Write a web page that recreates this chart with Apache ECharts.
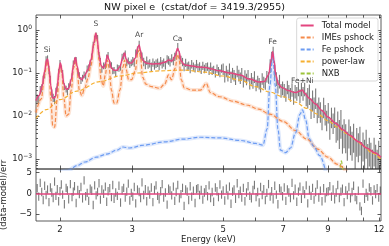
<!DOCTYPE html>
<html><head><meta charset="utf-8">
<script src="https://cdn.jsdelivr.net/npm/echarts@6/dist/echarts.min.js"></script>
<style>html,body{margin:0;padding:0;background:#fff}#c{width:389px;height:246px}</style>
</head><body><div id="c"></div>
<script>
// ---------- data ----------
const totalE = [1.748,1.78,1.81,1.835,1.855,1.865,1.88,1.90,1.92,1.945,1.97,1.99,2.005,2.02,2.045,2.07,2.10,2.13,2.16,2.18,2.20,2.23,2.26,2.30,2.34,2.38,2.42,2.445,2.465,2.49,2.52,2.55,2.58,2.61,2.635,2.67,2.71,2.75,2.80,2.85,2.875,2.90,2.94,2.99,3.05,3.10,3.12,3.145,3.18,3.24,3.35,3.50,3.62,3.68,3.75,3.82,3.87,3.90,3.95,4.02,4.15,4.35,4.55,4.65,4.9,5.2,5.5,5.8,6.1,6.3,6.45,6.55,6.6,6.65,6.72,6.82,6.95,7.2,7.5,7.7,7.8,7.9,8.1,8.4,8.7,9.0,9.4,9.8,10.2,10.7,11.2,11.7,12.13];
const totalV = [0.023,0.03,0.05,0.11,0.2,0.21,0.13,0.05,0.026,0.027,0.05,0.12,0.17,0.12,0.055,0.042,0.044,0.07,0.16,0.23,0.15,0.08,0.07,0.09,0.12,0.2,0.5,0.84,0.6,0.27,0.15,0.13,0.16,0.26,0.2,0.13,0.115,0.115,0.14,0.24,0.29,0.21,0.17,0.17,0.22,0.4,0.45,0.32,0.2,0.17,0.162,0.165,0.18,0.2,0.19,0.25,0.375,0.32,0.19,0.155,0.148,0.138,0.135,0.125,0.112,0.1,0.09,0.072,0.062,0.063,0.09,0.2,0.31,0.2,0.09,0.055,0.046,0.039,0.035,0.038,0.04,0.034,0.026,0.019,0.0135,0.0095,0.0068,0.0048,0.0035,0.0025,0.0018,0.0014,0.0011];

const imesE = [1.748,1.80,1.835,1.86,1.88,1.90,1.92,1.94,1.97,1.99,2.005,2.02,2.045,2.07,2.10,2.13,2.16,2.18,2.20,2.23,2.26,2.30,2.34,2.38,2.42,2.445,2.465,2.49,2.52,2.55,2.58,2.61,2.635,2.67,2.71,2.75,2.80,2.85,2.875,2.90,2.94,2.99,3.05,3.10,3.12,3.145,3.18,3.24,3.35,3.50,3.60,3.68,3.74,3.82,3.87,3.90,3.95,4.02,4.2,4.4,4.55,4.65,4.9,5.3,5.7,6.1,6.5,7.0,7.5,8.0,8.5,9.0,9.5,10.0];
const imesV = [0.012,0.025,0.09,0.19,0.11,0.025,0.006,0.0055,0.025,0.1,0.15,0.1,0.025,0.01,0.011,0.04,0.13,0.2,0.12,0.04,0.03,0.045,0.075,0.15,0.45,0.78,0.55,0.2,0.07,0.05,0.09,0.2,0.13,0.04,0.02,0.02,0.04,0.14,0.2,0.12,0.07,0.07,0.11,0.3,0.35,0.22,0.08,0.055,0.048,0.044,0.055,0.09,0.07,0.13,0.27,0.22,0.07,0.045,0.04,0.04,0.057,0.035,0.028,0.022,0.018,0.0145,0.011,0.0075,0.0046,0.0029,0.0017,0.0011,0.00075,0.0005];

const feE = [1.9,2.1,2.2,2.3,2.45,2.6,2.75,2.85,2.95,3.2,3.6,4.0,4.4,4.9,5.5,6.0,6.25,6.4,6.5,6.6,6.7,6.8,6.9,7.1,7.3,7.5,7.7,7.8,7.95,8.1,8.3,8.6,8.9];
const feV = [0.0004,0.00055,0.0007,0.00085,0.0011,0.0013,0.0016,0.0019,0.0018,0.0021,0.0025,0.0029,0.0032,0.0031,0.0027,0.0023,0.0021,0.005,0.05,0.28,0.05,0.005,0.0016,0.0014,0.0018,0.004,0.011,0.0138,0.008,0.003,0.002,0.0012,0.0005];

const plE = [1.748,1.85,2.0,2.2,2.5,2.8,3.1,3.5,4.0,4.5,5.0,5.5,6.0,6.5,7.0,7.5,8.0,8.5,9.0,9.5,10.0,10.5,11.0,11.5,12.13];
const plV = [0.0088,0.014,0.024,0.038,0.063,0.085,0.1,0.112,0.117,0.105,0.085,0.068,0.048,0.036,0.028,0.021,0.015,0.011,0.0078,0.0055,0.0039,0.0028,0.002,0.0014,0.00098];

const nxbE = [1.748,3.0,6.0,9.4,9.6,9.71,9.82,10.0,12.13];
const nxbV = [0.0002,0.00025,0.0003,0.00035,0.0005,0.0009,0.0005,0.00035,0.00035];

const dataE = [1.760,1.775,1.790,1.805,1.820,1.835,1.850,1.865,1.880,1.895,1.910,1.925,1.940,1.955,1.970,1.985,2.000,2.015,2.030,2.050,2.070,2.085,2.100,2.120,2.140,2.155,2.170,2.190,2.210,2.230,2.250,2.270,2.290,2.310,2.330,2.350,2.370,2.390,2.410,2.430,2.450,2.470,2.490,2.510,2.530,2.555,2.580,2.600,2.620,2.645,2.670,2.690,2.710,2.735,2.760,2.785,2.810,2.835,2.860,2.885,2.910,2.935,2.960,2.985,3.010,3.035,3.060,3.090,3.120,3.145,3.170,3.200,3.230,3.255,3.280,3.310,3.340,3.370,3.400,3.430,3.460,3.490,3.520,3.550,3.580,3.615,3.650,3.680,3.710,3.745,3.780,3.810,3.840,3.875,3.910,3.945,3.980,4.015,4.050,4.085,4.120,4.155,4.190,4.230,4.270,4.305,4.340,4.380,4.420,4.460,4.500,4.540,4.580,4.620,4.660,4.700,4.740,4.785,4.830,4.870,4.910,4.955,5.000,5.045,5.090,5.135,5.180,5.225,5.270,5.315,5.360,5.410,5.460,5.505,5.550,5.600,5.650,5.700,5.750,5.805,5.860,5.910,5.960,6.015,6.070,6.120,6.170,6.225,6.280,6.335,6.390,6.450,6.510,6.565,6.620,6.680,6.740,6.800,6.860,6.920,6.980,7.045,7.110,7.170,7.230,7.295,7.360,7.425,7.490,7.560,7.630,7.695,7.760,7.830,7.900,7.970,8.040,8.115,8.190,8.260,8.330,8.405,8.480,8.555,8.630,8.710,8.790,8.865,8.940,9.020,9.100,9.185,9.270,9.350,9.430,9.515,9.600,9.685,9.770,9.860,9.950,10.04,10.13,10.22,10.31,10.40,10.49,10.585,10.68,10.775,10.87,10.965,11.06,11.16,11.26,11.36,11.46,11.565,11.67,11.77,11.87,11.975,12.08];
const dataV = [0.026,0.025,0.041,0.045,0.071,0.095,0.2,0.21,0.12,0.071,0.034,0.027,0.024,0.037,0.047,0.103,0.17,0.126,0.1,0.049,0.043,0.037,0.049,0.06,0.083,0.165,0.194,0.2,0.106,0.088,0.068,0.077,0.092,0.086,0.127,0.133,0.173,0.24,0.45,0.62,0.74,0.65,0.26,0.19,0.123,0.149,0.15,0.227,0.26,0.162,0.15,0.114,0.117,0.099,0.134,0.13,0.138,0.236,0.252,0.284,0.176,0.193,0.16,0.175,0.194,0.18,0.29,0.34,0.46,0.275,0.246,0.185,0.156,0.197,0.16,0.171,0.143,0.178,0.153,0.168,0.177,0.149,0.192,0.162,0.179,0.155,0.213,0.2,0.181,0.224,0.194,0.242,0.264,0.41,0.263,0.206,0.184,0.14,0.176,0.143,0.152,0.127,0.164,0.144,0.131,0.165,0.135,0.145,0.121,0.15,0.127,0.139,0.144,0.115,0.143,0.115,0.121,0.101,0.129,0.113,0.102,0.129,0.128,0.086,0.113,0.091,0.128,0.083,0.101,0.09,0.075,0.113,0.091,0.079,0.1,0.066,0.089,0.074,0.09,0.059,0.077,0.061,0.084,0.054,0.066,0.059,0.05,0.076,0.063,0.058,0.086,0.08,0.154,0.23,0.3,0.115,0.077,0.051,0.067,0.041,0.047,0.041,0.033,0.049,0.039,0.033,0.043,0.028,0.039,0.035,0.044,0.031,0.044,0.035,0.044,0.026,0.03,0.036,0.017,0.026,0.018,0.029,0.0135,0.018,0.014,0.0093,0.0176,0.012,0.0088,0.0133,0.0056,0.0104,0.0076,0.0105,0.0048,0.0077,0.0049,0.0084,0.0038,0.0051,0.0039,0.0026,0.005,0.0035,0.0026,0.004,0.0017,0.0032,0.0024,0.0034,0.0015,0.0025,0.0017,0.0029,0.00135,0.0019,0.00144,0.001,0.0019,0.0013,0.001,0.0016,0.00066];
// relative 1-sigma error of the data, per energy range
const errEdges = [2.0,3.0,5.0,6.5,8.0,9.5];
const errRel = [0.22,0.18,0.22,0.3,0.35,0.5,0.65];
const residV = [1.2,-0.8,2.5,0.3,-1.6,1.8,-0.4,0.9,-2.1,1.4,0.2,-1.1,2.8,-0.6,1.0,-1.9,0.5,2.1,-0.3,-2.6,
 1.3,0.7,-1.4,2.2,-0.9,0.4,1.7,-2.3,0.8,-0.2,1.5,-1.2,3.1,-0.7,0.1,-1.8,1.1,0.6,-2.8,1.9,
 -0.5,0.3,2.4,-1.5,0.9,-0.1,1.6,-2.0,0.5,1.2,-0.9,2.0,-1.3,0.2,-0.6,1.8,-2.2,0.7,1.3,-1.0,
 0.4,2.3,-1.7,0.1,-0.8,1.5,-2.4,0.9,0.3,-1.1,2.6,-0.4,1.0,-1.9,0.6,-0.3,1.4,-2.1,0.8,1.9,
 -0.6,-1.4,0.5,2.2,-1.0,0.2,-2.7,1.1,0.7,-0.5,1.6,-1.8,0.3,2.0,-1.2,-0.2,1.3,-3.0,0.9,0.4,
 -1.6,1.7,-0.8,0.6,-2.3,1.0,1.2,-0.4,0.8,-1.5,0.2,1.0,-0.7,1.9,-1.1,0.3,-2.0,1.4,0.5,-0.9,
 2.1,-0.3,0.7,-1.7,1.1,-0.5,1.6,-2.5,0.4,0.9,-1.3,2.4,-0.2,0.6,-1.0,1.3,-1.9,0.2,1.7,-0.6,
 -1.2,0.8,2.0,-0.9,0.3,-2.2,1.5,-0.4,1.0,-1.6,0.1,2.2,-0.8,0.5,-1.4,1.8,-0.3,-2.6,1.2,0.6,
 -0.7,1.4,-1.8,0.9,0.2,-1.1,2.5,-0.5,1.1,-2.0,0.4,1.6,-1.3,0.7,-0.2,1.9,-2.4,0.8,-0.6,1.3,
 -1.5,0.3,2.1,-1.0,0.6,-1.9,1.2,-1.2,0.3,0.5,1.7,-0.8,0.9,-1.4,0.2,2.0,-1.1,0.4,1.1,-2.1,
 0.7,-0.4,1.5,-1.2,0.3,1.8,-0.9,-1.6,0.6,-3.1,-4.2,2.3,-1.3,0.1,-0.8,1.4,0.5,-1.7,0.9,-0.2,
 1.2,-1.0,0.6];
const residErr = 1.0;

const lineNames = ['Si','S','Ar','Ca','Fe','Fe+Ni'];
const lineEnergies = [1.86,2.445,3.12,3.87,6.6,7.8];
const linePeaks = [0.21,0.84,0.45,0.375,0.31,0.04];

const xTickValues = [2,3,4,5,6,7,8,9,10,11,12];
const xLabelValues = [2,3,5,7,9,12];
const yMajorExponents = [-3,-2,-1,0];
const residTicks = [-5,0,5];
const legendNames = ['Total model','IMEs pshock','Fe pshock','power-law','NXB'];

// ---------- layout / style ----------
const X_MIN = 1.748, X_MAX = 12.13, Y_MIN = 5.85e-4, Y_MAX = 2.23, R_MIN = -6.6, R_MAX = 5.8;
const FONT = 'DejaVu Sans';
const C = {total:'#e3457f', imes:'#f58a4b', fe:'#6d9cf2', pl:'#f6b030', nxb:'#9dc43a'};
const lg = Math.log10;
// x axis is a logarithmic energy axis: values are placed on a value axis in log10(E)
const zip = (a,b) => a.map((v,i)=>[lg(v),b[i]]);
const relErrAt = e => { let k = 0; while (k < errEdges.length && e >= errEdges[k]) k++; return errRel[k]; };

const yMinor = [];
for (let n=-4;n<=0;n++) for (let k=2;k<=9;k++){ const v=lg(k)+n; if (v>lg(Y_MIN) && v<lg(Y_MAX)) yMinor.push(v); }

const tickAxisCommon = {axisLine:{show:false, onZero:false}, splitLine:{show:false}};
function xTickAxis(grid, pos, labels){
  return Object.assign({type:'value', gridIndex:grid, position:pos, min:lg(X_MIN), max:lg(X_MAX),
    axisTick:{inside:true, length:3.5, customValues:xTickValues.map(lg), lineStyle:{color:'#333', width:0.8}},
    axisLabel: labels ? {show:true, customValues:xLabelValues.map(lg), margin:4, fontSize:8.5, fontFamily:FONT, color:'#222',
      formatter:v=>String(Math.round(Math.pow(10,v)))} : {show:false}}, tickAxisCommon);
}
function yTickAxis(pos, vals, len, labels){
  return Object.assign({type:'value', gridIndex:0, position:pos, min:lg(Y_MIN), max:lg(Y_MAX),
    axisTick:{inside:true, length:len, customValues:vals, lineStyle:{color:'#333', width:0.8}},
    axisLabel: labels ? {show:true, customValues:vals, margin:4, fontFamily:FONT, color:'#222',
      formatter:v=>'{b|10}{s|'+(v<0?'\u2212'+(-v):v)+'}',
      rich:{b:{fontSize:8.5,fontFamily:FONT,color:'#222'}, s:{fontSize:6,fontFamily:FONT,color:'#222',padding:[0,0,6,0]}}} : {show:false}}, tickAxisCommon);
}

const errData = dataE.map((e,i)=>{ const r = relErrAt(e); return [lg(e), dataV[i]*(1-r), dataV[i]*(1+r)]; });
const nRes = Math.min(dataE.length, residV.length);
const resData = dataE.slice(0,nRes).map((e,i)=>[lg(e), residV[i]-residErr, residV[i]+residErr]);

function errRender(params, api){
  const a = api.coord([api.value(0), api.value(1)]);
  const b = api.coord([api.value(0), api.value(2)]);
  return {type:'line', shape:{x1:a[0],y1:a[1],x2:b[0],y2:b[1]}, style:{stroke:'rgba(40,40,40,0.62)', lineWidth:1.1}};
}

const lineSeries = (name, E, V, color, dashed, z, width) => ({
  name, type:'line', xAxisIndex:0, yAxisIndex:0, data:zip(E,V), smooth:0.35, smoothMonotone:'x',
  symbol:'none', z, lineStyle:{color, width:width||1.2, type: dashed?[4,2]:'solid'}, itemStyle:{color}
});
const bandSeries = (E, V, color) => ({
  name:'band', type:'line', xAxisIndex:0, yAxisIndex:0, data:zip(E,V), smooth:0.35, smoothMonotone:'x',
  symbol:'none', z:2, silent:true, lineStyle:{color, width:4}
});

const gridCommon = {left:36, right:8, show:true, borderColor:'#333', borderWidth:0.8, backgroundColor:'transparent', containLabel:false, outerBoundsMode:'none'};
const option = {
  animation:false,
  backgroundColor:'#fff',
  title:{text:'NW pixel e  (cstat/dof = 3419.3/2955)', left:'center', top:1, padding:[2,0,0,28],
    textStyle:{fontSize:9.5, fontWeight:'normal', color:'#111', fontFamily:FONT}},
  legend:{data:legendNames, orient:'vertical', right:11, top:18, itemWidth:13, itemHeight:8, itemGap:3,
    padding:[3,4,3,3], borderColor:'#cfcfcf', borderWidth:0.8, borderRadius:2.5, backgroundColor:'rgba(255,255,255,0.85)',
    itemStyle:{opacity:0},
    textStyle:{fontSize:8.5, color:'#222', fontFamily:FONT, padding:[0,0,0,3]}},
  grid:[
    Object.assign({top:15, height:154}, gridCommon),
    Object.assign({top:169, height:52}, gridCommon)
  ],
  xAxis:[
    xTickAxis(0,'bottom',false),
    xTickAxis(0,'top',false),
    Object.assign(xTickAxis(1,'bottom',true), {name:'Energy (keV)', nameLocation:'middle', nameGap:14,
      nameTextStyle:{fontSize:8.5, fontFamily:FONT, color:'#222'}}),
    xTickAxis(1,'top',false)
  ],
  yAxis:[
    {type:'log', logBase:10, gridIndex:0, min:Y_MIN, max:Y_MAX, show:false, axisLine:{onZero:false}},
    Object.assign(yTickAxis('left', yMajorExponents, 3.5, true), {name:'counts s\u207B\u00B9 keV\u207B\u00B9', nameLocation:'middle', nameGap:25,
      nameTextStyle:{fontSize:8.5, fontFamily:FONT, color:'#222'}}),
    yTickAxis('left', yMinor, 2, false),
    yTickAxis('right', yMajorExponents, 3.5, false),
    yTickAxis('right', yMinor, 2, false),
    Object.assign({type:'value', gridIndex:1, position:'left', min:R_MIN, max:R_MAX,
      axisTick:{inside:true, length:3.5, customValues:residTicks, lineStyle:{color:'#333', width:0.8}},
      axisLabel:{customValues:residTicks, margin:4, fontSize:8.5, fontFamily:FONT, color:'#222', formatter:v=>v<0?'\u2212'+(-v):String(v)},
      name:'(data-model)/err', nameLocation:'middle', nameGap:27, nameTextStyle:{fontSize:8.5, fontFamily:FONT, color:'#222'}}, tickAxisCommon),
    Object.assign({type:'value', gridIndex:1, position:'right', min:R_MIN, max:R_MAX,
      axisTick:{inside:true, length:3.5, customValues:residTicks, lineStyle:{color:'#333', width:0.8}},
      axisLabel:{show:false}}, tickAxisCommon)
  ],
  series:[
    {name:'data', type:'custom', xAxisIndex:0, yAxisIndex:0, data:errData, renderItem:errRender, encode:{x:0,y:[1,2]}, clip:true, z:1, silent:true},
    bandSeries(imesE, imesV, 'rgba(245,138,75,0.22)'),
    bandSeries(feE, feV, 'rgba(109,156,242,0.22)'),
    lineSeries('NXB', nxbE, nxbV, C.nxb, true, 3),
    lineSeries('power-law', plE, plV, C.pl, true, 3),
    lineSeries('IMEs pshock', imesE, imesV, C.imes, true, 4),
    lineSeries('Fe pshock', feE, feV, C.fe, true, 4),
    lineSeries('Total model', totalE, totalV, C.total, false, 5, 1.5),
    {name:'labels', type:'scatter', xAxisIndex:0, yAxisIndex:0, symbolSize:1, itemStyle:{color:'rgba(0,0,0,0)'}, silent:true, z:6,
      data:lineEnergies.map((e,i)=>({value:[lg(e), linePeaks[i]], name:lineNames[i]})),
      label:{show:true, position:'top', distance:5, formatter:p=>p.name, fontSize:7.5, fontFamily:FONT, color:'#111'}},
    {name:'resid', type:'custom', xAxisIndex:2, yAxisIndex:5, data:resData, renderItem:errRender, encode:{x:0,y:[1,2]}, clip:true, z:1, silent:true,
      markLine:{silent:true, symbol:'none', label:{show:false}, lineStyle:{color:C.total, width:1.5, type:'solid'}, data:[{yAxis:0}]}}
  ]
};
echarts.init(document.getElementById('c'), null, {renderer:'canvas'}).setOption(option);
</script></body></html>
